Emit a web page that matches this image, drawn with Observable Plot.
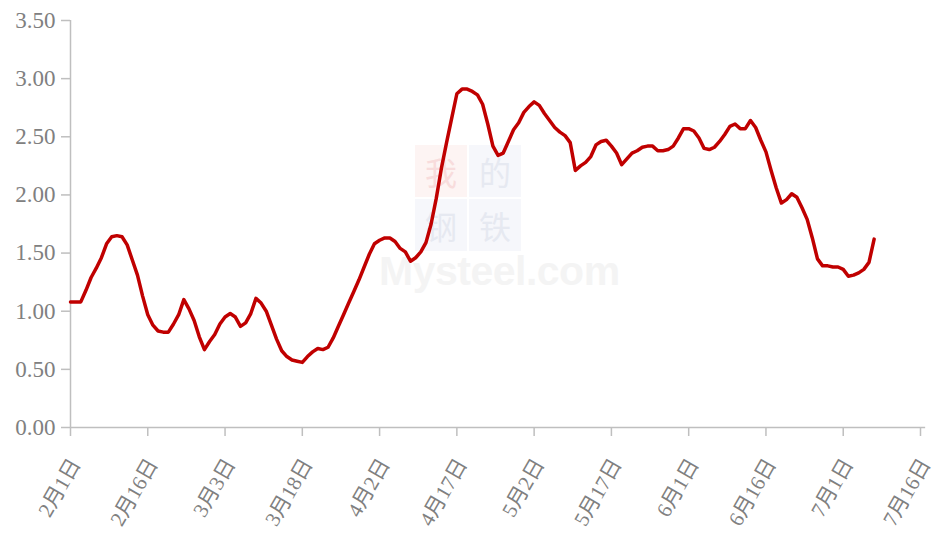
<!DOCTYPE html>
<html><head><meta charset="utf-8">
<script src="https://cdn.jsdelivr.net/npm/d3@7"></script>
<script src="https://cdn.jsdelivr.net/npm/@observablehq/plot@0.6"></script>
<style>
body{margin:0;background:#fff;}
#wrap{position:relative;width:935px;height:536px;overflow:hidden;}
#wm{position:absolute;left:0;top:0;width:935px;height:536px;}
#wm .box{position:absolute;width:52px;height:52px;font:32px 'Noto Sans CJK SC';line-height:52px;text-align:center;}
#wm .txt{position:absolute;left:379px;top:248px;font:bold 41px 'Liberation Sans',sans-serif;line-height:46px;color:#f4f4f4;letter-spacing:-0.5px;}
#chart{position:absolute;left:0;top:0;}
</style></head><body>
<div id="wrap">
  <div id="wm">
    <div class="box" style="left:415px;top:145px;background:#fdf4f3;color:#f8dcdc;">我</div>
    <div class="box" style="left:469px;top:145px;background:#f6f7fb;color:#e6e9f1;">的</div>
    <div class="box" style="left:415px;top:199px;background:#f6f7fb;color:#e6e9f1;">钢</div>
    <div class="box" style="left:469px;top:199px;background:#f6f7fb;color:#e6e9f1;">铁</div>
    <div class="txt">Mysteel.com</div>
  </div>
  <div id="chart"></div>
</div>
<script>
const startDate = "2023-02-01";
const values = [
1.08,1.08,1.08,1.18,1.29,1.37,1.46,1.58,1.64,1.65,
1.64,1.57,1.44,1.31,1.13,0.97,0.88,0.83,0.82,0.82,
0.89,0.97,1.10,1.02,0.92,0.78,0.67,0.74,0.80,0.89,
0.95,0.98,0.95,0.87,0.90,0.98,1.11,1.07,1.00,0.88,
0.76,0.66,0.61,0.58,0.57,0.56,0.61,0.65,0.68,0.67,
0.69,0.77,0.87,0.97,1.07,1.17,1.27,1.38,1.49,1.58,
1.61,1.63,1.63,1.60,1.54,1.51,1.43,1.46,1.51,1.59,
1.75,1.97,2.23,2.45,2.66,2.87,2.91,2.91,2.89,2.86,
2.78,2.61,2.42,2.34,2.36,2.46,2.56,2.62,2.71,2.76,
2.80,2.77,2.70,2.64,2.58,2.54,2.51,2.45,2.21,2.25,
2.28,2.33,2.43,2.46,2.47,2.42,2.36,2.26,2.31,2.36,
2.38,2.41,2.42,2.42,2.38,2.38,2.39,2.42,2.49,2.57,
2.57,2.55,2.49,2.40,2.39,2.41,2.46,2.52,2.59,2.61,
2.57,2.57,2.64,2.58,2.47,2.37,2.21,2.06,1.93,1.96,
2.01,1.98,1.89,1.79,1.63,1.45,1.39,1.39,1.38,1.38,
1.36,1.30,1.31,1.33,1.36,1.42,1.62
];
const tickDates = ["2023-02-01","2023-02-16","2023-03-03","2023-03-18","2023-04-02","2023-04-17","2023-05-02","2023-05-17","2023-06-01","2023-06-16","2023-07-01","2023-07-16"];
const tickLabels = ["2月1日","2月16日","3月3日","3月18日","4月2日","4月17日","5月2日","5月17日","6月1日","6月16日","7月1日","7月16日"];
const yTicks = [0,0.5,1,1.5,2,2.5,3,3.5];

const DAY = 864e5;
const t0 = new Date(startDate + "T00:00:00Z");
const data = values.map((v, i) => ({date: new Date(+t0 + i * DAY), value: v}));
const ticks = tickDates.map(s => new Date(s + "T00:00:00Z"));
const labelOf = new Map(ticks.map((t, i) => [+t, tickLabels[i]]));

const axisColor = "#bfbfbf";
const textColor = "#808080";
const font = "'Liberation Serif','Noto Sans CJK SC',serif";

const plot = Plot.plot({
  width: 935, height: 536,
  marginLeft: 70, marginRight: 15, marginTop: 20, marginBottom: 109,
  style: {fontFamily: font, fontSize: "22px", background: "transparent", overflow: "visible"},
  x: {type: "utc", domain: [ticks[0], ticks[ticks.length - 1]]},
  y: {domain: [0, 3.5]},
  marks: [
    Plot.ruleX([ticks[0]], {stroke: axisColor, strokeWidth: 1.5}),
    Plot.ruleY([0], {stroke: axisColor, strokeWidth: 1.5, x1: ticks[0], x2: new Date(+ticks[ticks.length-1] + DAY)}),
    Plot.axisY({ticks: yTicks, tickFormat: d => d.toFixed(2), tickSize: 9, tickPadding: 6, stroke: axisColor, strokeWidth: 1.5, fill: textColor, fontSize: 23, label: null}),
    Plot.axisX({ticks, tickFormat: () => "", tickSize: 9, stroke: axisColor, strokeWidth: 1.5, label: null}),
    Plot.axisX({ticks, tickFormat: d => labelOf.get(+d), tickRotate: -60, tickSize: 0, tickPadding: 15, dx: 5, dy: 18, fill: textColor, fontSize: 21, label: null}),
    Plot.lineY(data, {x: "date", y: "value", stroke: "#c00000", strokeWidth: 3.5, strokeLinejoin: "round"})
  ]
});
document.getElementById("chart").appendChild(plot);
</script>
</body></html>
